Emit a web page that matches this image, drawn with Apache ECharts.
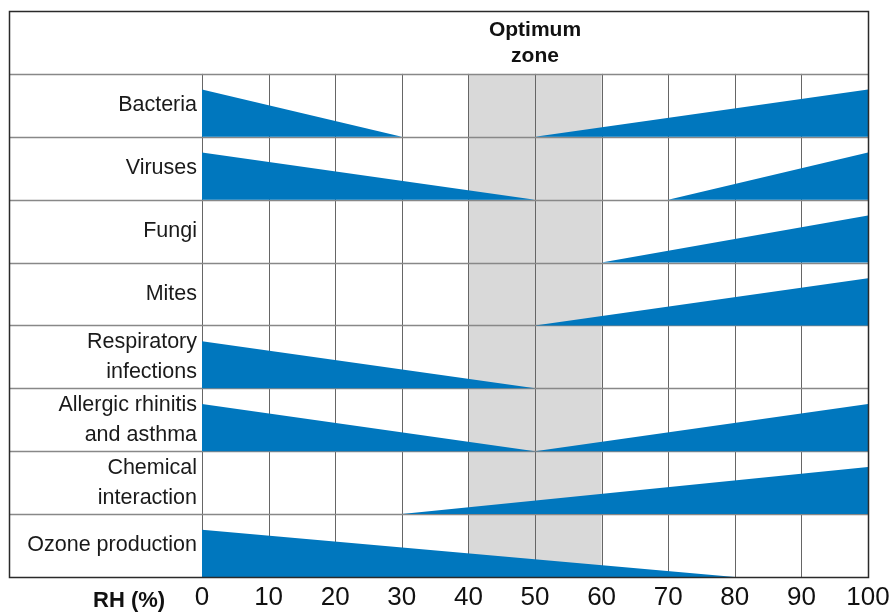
<!DOCTYPE html>
<html>
<head>
<meta charset="utf-8">
<script src="https://cdn.jsdelivr.net/npm/echarts@6/dist/echarts.min.js"></script>
<style>html,body{margin:0;padding:0;background:#fff}#c{width:893px;height:612px}</style>
</head>
<body>
<div id="c"></div>
<script>
// ---- data ----
const categories = ['Bacteria', 'Viruses', 'Fungi', 'Mites', 'Respiratory\ninfections', 'Allergic rhinitis\nand asthma', 'Chemical\ninteraction', 'Ozone production'];
// risk falling from RH 0 to this RH (null = none)
const decreasingTo = [30, 50, null, null, 50, 50, null, 80];
// risk rising from this RH up to RH 100 (null = none)
const increasingFrom = [50, 70, 60, 50, null, 50, 30, null];
const rhTicks = [0, 10, 20, 30, 40, 50, 60, 70, 80, 90, 100];
const optimumZone = [40, 60];
const headerText = 'Optimum\nzone';
const axisTitle = 'RH (%)';

const BLUE = '#0077be';
const FONT = "'Liberation Sans', Arial, sans-serif";
const LABEL_COL = 193; // width of label column in px

const yCats = [''].concat(categories);
const triData = [];
categories.forEach((c, i) => {
  if (decreasingTo[i] != null) triData.push([0, i + 1, decreasingTo[i], -1]);
  if (increasingFrom[i] != null) triData.push([increasingFrom[i], i + 1, 100, 1]);
});

function rowBounds(api, row) {
  const c = api.coord([0, row]);
  const h = api.size([0, 1])[1];
  return [c[1] - h / 2, c[1] + h / 2, h];
}

const chart = echarts.init(document.getElementById('c'), null, {renderer: 'canvas'});
chart.setOption({
  backgroundColor: '#fff',
  animation: false,
  title: {
    text: axisTitle, left: 88, top: 585,
    textStyle: {fontFamily: FONT, fontSize: 22, fontWeight: 'bold', color: '#111'}
  },
  grid: {left: 202, right: 25, top: 11, bottom: 35},
  xAxis: {
    type: 'value', min: 0, max: 100, interval: 10,
    axisLine: {show: false}, axisTick: {show: false}, splitLine: {show: false},
    axisLabel: {fontFamily: FONT, fontSize: 26, color: '#111', margin: 8,
      formatter: v => rhTicks.indexOf(v) >= 0 ? String(v) : ''}
  },
  yAxis: {
    type: 'category', inverse: true, data: yCats,
    axisLine: {show: false}, axisTick: {show: false}, splitLine: {show: false},
    axisLabel: {fontFamily: FONT, fontSize: 21.5, color: '#1a1a1a', margin: 5, lineHeight: 30, align: 'right'}
  },
  series: [
    { // optimum band + grid lines
      type: 'custom', z: 1, silent: true,
      data: [[0, 0]],
      renderItem: function (params, api) {
        const children = [];
        const first = rowBounds(api, 1);
        const last = rowBounds(api, categories.length);
        const x0 = api.coord([0, 1])[0];
        const x100 = api.coord([100, 1])[0];
        const xl = x0 - LABEL_COL;
        const xa = api.coord([optimumZone[0], 1])[0];
        const xb = api.coord([optimumZone[1], 1])[0];
        children.push({type: 'rect', shape: {x: xa, y: first[0], width: xb - xa, height: last[1] - first[0]}, style: {fill: '#d9d9d9'}});
        rhTicks.forEach(t => {
          const x = Math.round(api.coord([t, 1])[0]) + 0.5;
          children.push({type: 'line', shape: {x1: x, y1: first[0], x2: x, y2: last[1]}, style: {stroke: '#666', lineWidth: 1}});
        });
        for (let r = 1; r <= categories.length; r++) {
          const b = rowBounds(api, r);
          const y = Math.round(b[0]) + 0.5;
          children.push({type: 'line', shape: {x1: xl, y1: y, x2: x100, y2: y}, style: {stroke: '#888', lineWidth: 1.6}});
        }
        return {type: 'group', children: children};
      }
    },
    { // triangles
      type: 'custom', z: 3, silent: true,
      data: triData,
      encode: {x: [0, 2], y: 1},
      renderItem: function (params, api) {
        const s = api.value(0), row = api.value(1), e = api.value(2), dir = api.value(3);
        const b = rowBounds(api, row);
        const bottom = b[1];
        const top = bottom - b[2] * 0.75;
        const xs = api.coord([s, row])[0], xe = api.coord([e, row])[0];
        const pts = dir < 0 ? [[xs, bottom], [xs, top], [xe, bottom]] : [[xs, bottom], [xe, top], [xe, bottom]];
        return {type: 'polygon', shape: {points: pts}, style: {fill: BLUE}};
      }
    },
    { // outer border + header text
      type: 'custom', z: 5, silent: true,
      data: [[50, 0]],
      renderItem: function (params, api) {
        const hb = rowBounds(api, 0);
        const last = rowBounds(api, categories.length);
        const x0 = api.coord([0, 1])[0];
        const x100 = api.coord([100, 1])[0];
        const xl = x0 - LABEL_COL;
        const c = api.coord([api.value(0), api.value(1)]);
        return {type: 'group', children: [
          {type: 'rect', shape: {x: Math.round(xl) + 0.5, y: Math.round(hb[0]) + 0.5, width: Math.round(x100 - xl), height: Math.round(last[1] - hb[0])},
            style: {fill: null, stroke: '#2a2a2a', lineWidth: 1.5}},
          {type: 'text', x: c[0], y: c[1] + 1, style: {text: headerText, fontFamily: FONT, fontSize: 21, fontWeight: 'bold', fill: '#111', align: 'center', verticalAlign: 'middle', lineHeight: 26}}
        ]};
      }
    }
  ]
});
</script>
</body>
</html>
